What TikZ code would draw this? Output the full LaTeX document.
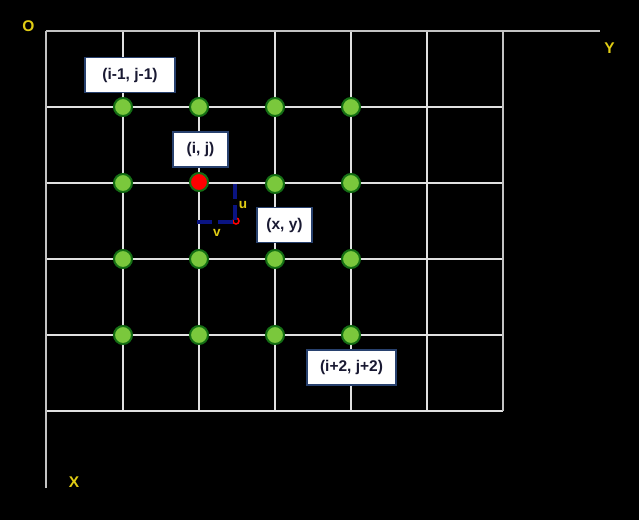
\documentclass[tikz,border=0pt]{standalone}
\usepackage{fontspec}
\setmainfont{Liberation Sans}
\definecolor{gridc}{RGB}{225,225,225}
\definecolor{axisc}{RGB}{195,195,195}
\definecolor{dotfill}{RGB}{122,200,60}
\definecolor{dotedge}{RGB}{20,110,20}
\definecolor{boxedge}{RGB}{40,65,110}
\definecolor{boxtext}{RGB}{25,25,50}
\definecolor{labc}{RGB}{225,205,20}
\definecolor{navyc}{RGB}{10,20,130}
\tikzset{
  gridline/.style={draw=gridc, line width=1.6pt},
  axisline/.style={draw=axisc, line width=2.2pt},
  gdot/.style={circle, fill=dotfill, draw=dotedge, line width=2pt, minimum size=18pt, inner sep=0pt},
  rdot/.style={circle, fill=red, draw=dotedge, line width=2pt, minimum size=18pt, inner sep=0pt},
  labbox/.style={rectangle, fill=white, draw=boxedge, line width=1.3pt, minimum height=35pt, inner sep=0pt, text=boxtext, font=\fontsize{15.5}{17}\selectfont\bfseries},
  axlab/.style={text=labc, font=\fontsize{15.5}{17}\selectfont\bfseries, inner sep=0pt},
  uvlab/.style={text=labc, font=\fontsize{13.5}{15}\selectfont\bfseries, inner sep=0pt},
  dirline/.style={draw=navyc, line width=4.5pt, dash pattern=on 15pt off 6pt}
}
\begin{document}
\begin{tikzpicture}[x=1pt,y=-1pt]
\fill[black] (0,0) rectangle (639,520);
\useasboundingbox (0,0) rectangle (639,520);
% grid
\foreach \x in {123,199,275,351,427} \draw[gridline] (\x,31) -- (\x,411);
\foreach \y in {107,183,259,335} \draw[gridline] (46,\y) -- (503,\y);
\draw[gridline] (46,411) -- (503,411);
\draw[axisline] (503,31) -- (503,411);
% axes
\draw[axisline] (46,31) -- (600,31);
\draw[axisline] (46,31) -- (46,488);
\node[axlab] (O) at (28.5,26.5) {O};
\node[axlab] (Y) at (609.5,48.5) {Y};
\node[axlab] (X) at (74,482.5) {X};
% dots
\node[gdot] (d11) at (123,107) {};
\node[gdot] (d12) at (199,107) {};
\node[gdot] (d13) at (275,107) {};
\node[gdot] (d14) at (351,107) {};
\node[gdot] (d21) at (123,183) {};
\node[rdot] (d22) at (199,182) {};
\node[gdot] (d23) at (275,184) {};
\node[gdot] (d24) at (351,183) {};
\node[gdot] (d31) at (123,259) {};
\node[gdot] (d32) at (199,259) {};
\node[gdot] (d33) at (275,259) {};
\node[gdot] (d34) at (351,259) {};
\node[gdot] (d41) at (123,335) {};
\node[gdot] (d42) at (199,335) {};
\node[gdot] (d43) at (275,335) {};
\node[gdot] (d44) at (351,335) {};
% point (x,y) and offsets
\node[circle, draw=red, line width=1.5pt, minimum size=6pt, inner sep=0pt] (p) at (236,221) {};
\coordinate (ptop) at (235,184);
\coordinate (pleft) at (197,222);
\coordinate (pc) at (235,222);
\draw[dirline] (ptop) -- (pc);
\draw[dirline] (pleft) -- (pc);
\node[uvlab] (u) at (243,205) {u};
\node[uvlab] (v) at (217,233) {v};
% label boxes
\node[labbox, minimum width=90pt] (b1) at (130,75) {(i-1, j-1)};
\node[labbox, minimum width=55pt] (b2) at (200.5,149.5) {(i, j)};
\node[labbox, minimum width=55pt] (b3) at (284.5,225) {(x, y)};
\node[labbox, minimum width=89pt] (b4) at (351.5,367.5) {(i+2, j+2)};
\end{tikzpicture}
\end{document}
